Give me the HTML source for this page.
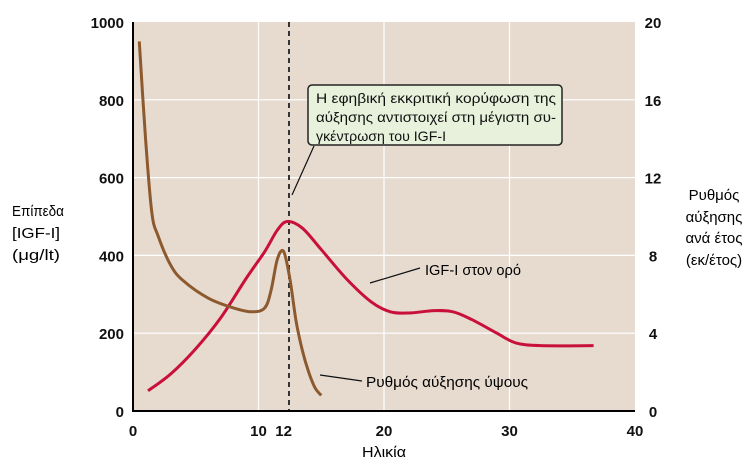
<!DOCTYPE html>
<html><head><meta charset="utf-8"><style>
body{margin:0;background:#fff;}
svg{display:block;font-family:"Liberation Sans","DejaVu Sans",sans-serif;}
</style></head><body>
<svg id="chart" width="756" height="466" viewBox="0 0 756 466" xmlns="http://www.w3.org/2000/svg">
<rect x="133" y="22" width="502" height="389" fill="#e7dbd0"/>
<g id="grid"></g>
<line x1="289" y1="22" x2="289" y2="411" stroke="#333" stroke-width="2" stroke-dasharray="5,4"/>
<path id="igf" fill="none" stroke="#c8103a" stroke-width="3"/>
<path id="growth" fill="none" stroke="#8c5a2e" stroke-width="3"/>
<line x1="133" y1="22" x2="133" y2="412" stroke="#000" stroke-width="2"/>
<line x1="132" y1="411" x2="635" y2="411" stroke="#000" stroke-width="2"/>
<g id="ticks" font-size="15" font-weight="bold" fill="#111"></g>
<text x="384" y="457" font-size="15" text-anchor="middle" textLength="44" lengthAdjust="spacingAndGlyphs">Ηλικία</text>
<g font-size="15">
<text x="12" y="216" textLength="52" lengthAdjust="spacingAndGlyphs">Επίπεδα</text>
<text x="12" y="238" textLength="48" lengthAdjust="spacingAndGlyphs">[IGF-I]</text>
<text x="12" y="260" textLength="48" lengthAdjust="spacingAndGlyphs">(μg/lt)</text>
</g>
<g font-size="15" text-anchor="middle">
<text x="714" y="200">Ρυθμός</text>
<text x="714" y="222">αύξησης</text>
<text x="714" y="243">ανά έτος</text>
<text x="714" y="265">(εκ/έτος)</text>
</g>
<g>
<line x1="314" y1="146" x2="292" y2="195" stroke="#111" stroke-width="1.2"/>
<rect x="308" y="85" width="254" height="60" rx="4" fill="#e8f1dc" stroke="#222" stroke-width="1.5"/>
<g font-size="14" fill="#111">
<text x="316" y="103" textLength="240" lengthAdjust="spacingAndGlyphs">Η εφηβική εκκριτική κορύφωση της</text>
<text x="316" y="122" textLength="240" lengthAdjust="spacingAndGlyphs">αύξησης αντιστοιχεί στη μέγιστη συ-</text>
<text x="316" y="141" textLength="130" lengthAdjust="spacingAndGlyphs">γκέντρωση του IGF-I</text>
</g></g>
<g>
<line x1="370" y1="283" x2="420" y2="268" stroke="#111" stroke-width="1.2"/>
<text x="425" y="275" font-size="15" textLength="96" lengthAdjust="spacingAndGlyphs">IGF-I στον ορό</text>
</g>
<g>
<line x1="320" y1="375" x2="362" y2="381" stroke="#111" stroke-width="1.2"/>
<text x="366" y="387" font-size="15" textLength="162" lengthAdjust="spacingAndGlyphs">Ρυθμός αύξησης ύψους</text>
</g>
</svg>
<script>
const xTicks=[0,10,12,20,30,40];
const leftTicks=[0,200,400,600,800,1000];
const rightTicks=[0,4,8,12,16,20];
const igfAges=[1.2,3,5,7,9,10.5,11.5,12.3,13.5,15,17,19,20.5,22,24,25.5,27,29,30.5,32.5,36.7];
const igfValues=[52,95,160,240,340,410,465,487,470,415,340,280,255,252,258,255,235,200,175,168,168];
const growthAges=[0.5,1,1.5,2,3,4,6,8,9.5,10.5,11,11.5,12,12.5,13,13.5,14,14.5,15];
const growthValues=[19,14,10.2,9,7.5,6.7,5.8,5.3,5.1,5.3,6.2,7.8,8.2,6.8,4.6,3.1,2,1.2,0.8];
const X=a=>133+a*(502/40), YL=v=>411-v*389/1000, YR=v=>411-v*389/20;
const NS="http://www.w3.org/2000/svg";
const grid=document.getElementById('grid'), ticks=document.getElementById('ticks');
function line(p,x1,y1,x2,y2){const l=document.createElementNS(NS,'line');l.setAttribute('x1',x1);l.setAttribute('y1',y1);l.setAttribute('x2',x2);l.setAttribute('y2',y2);l.setAttribute('stroke','#fff');l.setAttribute('stroke-width','1.2');p.appendChild(l);return l;}
[10,20,30].forEach(a=>{const l=line(grid,X(a),22,X(a),411);

});
[200,400,600,800].forEach(v=>{const l=line(grid,133,YL(v),635,YL(v));

});
function txt(x,y,s,anchor){const t=document.createElementNS(NS,'text');t.setAttribute('x',x);t.setAttribute('y',y);t.setAttribute('text-anchor',anchor);t.textContent=s;ticks.appendChild(t);return t;}
xTicks.forEach(a=>{const t=txt(X(a),436,a,'middle');

});
leftTicks.forEach(v=>{const t=txt(124,YL(v)+6,v,'end');

});
rightTicks.forEach(v=>{const t=txt(653,YR(v)+6,v,'middle');

});
function smooth(pts){let d='M'+pts[0][0]+','+pts[0][1];for(let i=0;i<pts.length-1;i++){const p0=pts[i-1]||pts[i],p1=pts[i],p2=pts[i+1],p3=pts[i+2]||p2;
d+=' C'+(p1[0]+(p2[0]-p0[0])/6)+','+(p1[1]+(p2[1]-p0[1])/6)+' '+(p2[0]-(p3[0]-p1[0])/6)+','+(p2[1]-(p3[1]-p1[1])/6)+' '+p2[0]+','+p2[1];}return d;}
document.getElementById('igf').setAttribute('d',smooth(igfAges.map((a,i)=>[X(a),YL(igfValues[i])])));
document.getElementById('growth').setAttribute('d',smooth(growthAges.map((a,i)=>[X(a),YR(growthValues[i])])));
</script>
</body></html>
